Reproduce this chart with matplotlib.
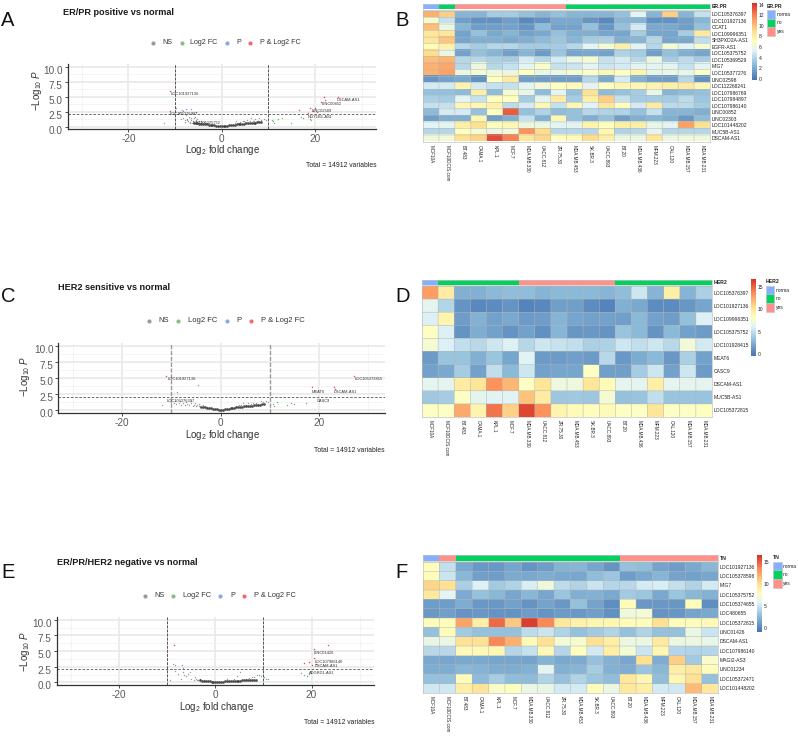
import matplotlib
matplotlib.use('Agg')
import matplotlib.pyplot as plt
import numpy as np
from matplotlib.colors import LinearSegmentedColormap, ListedColormap
from matplotlib.patches import Rectangle
from matplotlib.transforms import ScaledTranslation

plt.rcParams['font.family'] = ['Liberation Sans', 'DejaVu Sans']
plt.rcParams['mathtext.fontset'] = 'custom'
plt.rcParams['mathtext.rm'] = 'Liberation Sans'
plt.rcParams['mathtext.it'] = 'Liberation Sans:italic'
plt.rcParams['axes.unicode_minus'] = False

W, H = 798, 738

### Data: samples and heatmap rows ###
samples = ['MCF10A', 'MCF10DCIS.com', 'BT.483', 'CAMA.1', 'KPL.1', 'MCF.7', 'MDA.MB.330', 'UACC.812', 'ZR.75.30',
           'MDA.MB.453', 'SK.BR.3', 'UACC.893', 'BT.20', 'MDA.MB.436', 'MFM.223', 'CAL.120', 'MDA.MB.157', 'MDA.MB.231']

b_rows = ['LOC105376397', 'LOC101927136', 'CCAT1', 'LOC109996351', 'SH3PXD2A-AS1', 'EGFR-AS1', 'LOC105375752',
          'LOC105369529', 'MIG7', 'LOC105377276', 'LINC02598', 'LOC112268241', 'LOC107986769', 'LOC107984897',
          'LOC107986140', 'LINC00852', 'LINC02303', 'LOC101448202', 'MUC5B-AS1', 'DSCAM-AS1']
b_groups = [0, 1, 2, 2, 2, 2, 2, 2, 2, 1, 1, 1, 1, 1, 1, 1, 1, 1]
b_vals = [
    [10.5, 9.5, 2.5, 2.5, 3.5, 3.5, 3, 2.5, 3, 2.5, 2.5, 2.5, 3, 5.5, 2.5, 9.5, 2.5, 4.5],
    [6.5, 4.5, 1.5, 1, 1, 1.5, 0.7, 1, 2, 2, 1.2, 0.7, 2.5, 2.5, 1, 1, 1.5, 2.5],
    [10, 6, 2.5, 1.5, 1.5, 1.7, 1.2, 2.7, 1.7, 1.7, 3, 1.3, 3, 5, 2, 2, 1.5, 3],
    [8.5, 8.5, 1.7, 3, 2, 2.5, 1.7, 2, 3, 2.2, 2.2, 1.8, 1.8, 3.5, 1.8, 1.8, 3.5, 8.3],
    [8.5, 9.8, 1.8, 2.2, 2.2, 2, 2.2, 2.7, 3.3, 2.5, 3.5, 3.7, 2.2, 2.5, 4, 1.8, 2, 4.3],
    [7.2, 7.8, 4, 3.5, 4, 4, 3.5, 3.5, 3.5, 4, 5.5, 6.5, 8, 5.5, 4, 6.5, 5.5, 6.5],
    [9, 6, 1.7, 3, 2.5, 1.6, 2.5, 1.4, 3.2, 1.8, 2, 1.7, 3.8, 3.5, 1.6, 3, 2.2, 1.8],
    [10, 10.3, 4, 4, 3.7, 3.5, 5, 4, 5, 6, 6.5, 4.5, 5, 4, 6, 3.5, 4.2, 3.5],
    [10.5, 10.8, 4, 6, 4, 4.5, 5.5, 6.8, 4.5, 4.7, 5.5, 4.7, 5, 5.5, 5.5, 5.5, 4.5, 5.5],
    [10.5, 11, 6, 6.5, 6, 5.7, 7, 6, 6, 6.5, 6.8, 7.5, 7, 7.7, 5.8, 6, 5.8, 6.8],
    [1.2, 1.7, 2, 1, 7, 8.2, 1.5, 1.5, 1.5, 1.5, 4, 2, 5, 2.3, 1.5, 1.5, 4, 1],
    [5, 5, 7.7, 5, 4.5, 4.5, 5.5, 6.3, 7, 7.3, 5.5, 7, 7.5, 7.5, 7.7, 8, 8.3, 7.5],
    [3, 3, 2.7, 8, 2.8, 6.5, 5.8, 2.8, 5.5, 3, 8.8, 2.8, 3, 3.5, 5.8, 2.5, 2.8, 3],
    [3.7, 3.5, 5.5, 4.5, 7, 7, 3.5, 5.5, 8.2, 3.5, 8, 9.5, 4.5, 3.5, 3.5, 3.5, 4.2, 3.2],
    [4.5, 4.5, 7.5, 7.5, 7.8, 4.2, 5, 7.5, 4.5, 7.5, 5.3, 8.5, 7, 5, 8.2, 4.2, 4.2, 3.5],
    [2.7, 5, 5, 3, 7, 13, 3, 3.8, 2.8, 3, 4, 3.8, 3.8, 3, 4.5, 2.5, 2.5, 2.2],
    [1.5, 2.2, 2.2, 7.5, 1.5, 2.2, 4.5, 2.3, 7.5, 3, 2.2, 3, 1.5, 2.2, 2.5, 2.2, 1.3, 2.8],
    [5.5, 5.5, 8, 8.8, 7.2, 7.5, 6, 6, 5.5, 5.5, 7.7, 7, 8, 8, 5.8, 5.5, 11, 8.7],
    [4, 4, 7, 6.5, 6, 6.3, 11.5, 9, 4, 4, 4, 7.5, 3.8, 4, 5.5, 4, 4, 4],
    [6.2, 6.3, 8.8, 9.3, 13.5, 12, 8.5, 9.2, 7, 7.3, 9, 8, 6, 6, 8.5, 6, 6.2, 6.2],
]

d_rows = ['LOC105376397', 'LOC101927136', 'LOC109996351', 'LOC105375752', 'LOC101928415', 'MEAT6', 'CASC9',
          'DSCAM-AS1', 'MUC5B-AS1', 'LOC105372815']
d_groups = [0, 1, 1, 1, 1, 1, 2, 2, 2, 2, 2, 2, 1, 1, 1, 1, 1, 1]
d_vals = [
    [13, 9.5, 2.5, 2.5, 3, 3.2, 3.2, 2.7, 3, 3, 3, 2.8, 3.2, 5.5, 2.7, 9.3, 2.7, 4.2],
    [6.5, 4.5, 1.2, 0.6, 0.7, 1.2, 0.4, 0.6, 1.7, 1.7, 0.8, 0.4, 2.5, 2.2, 0.8, 0.7, 1.3, 2],
    [6, 9, 1.6, 2.6, 1.8, 2.2, 1.5, 1.6, 2.7, 2, 1.8, 1.8, 1.7, 3, 1.8, 1.6, 3.3, 6],
    [8, 6, 1.1, 2.4, 1.8, 1.1, 1.8, 1, 2.8, 1.3, 1.4, 1.1, 3.5, 3, 1.1, 3, 1.8, 1.5],
    [7.5, 6, 5, 4.7, 5.5, 6, 4.6, 5.5, 5.2, 5, 4.2, 4.3, 5.5, 5, 5.5, 4.7, 7.3, 5.7],
    [1.5, 3.5, 3.5, 2.5, 3.6, 2, 6.2, 1.5, 1.5, 1.7, 1.5, 4.7, 1.4, 2.3, 3, 1.4, 4.2, 1.8],
    [1.8, 2.2, 4, 1.8, 5, 3, 5.5, 1.8, 2, 2, 8, 1.7, 1.7, 4, 5.5, 1.8, 5.5, 1.5],
    [6.5, 6.5, 9.5, 10, 13.5, 12, 8, 10, 7, 7, 10, 8.5, 6.5, 6.5, 9.3, 6.5, 6.5, 6.5],
    [3.8, 4, 8, 6.5, 6.3, 6.3, 11.5, 9.5, 3.7, 3.8, 3.7, 7.5, 3.4, 3.5, 5, 3.5, 3.5, 3.5],
    [8, 8, 12.5, 9, 14.5, 11, 16, 13.5, 9, 8.5, 8.3, 8.5, 8, 8, 10, 8, 8, 8.2],
]

f_rows = ['LOC101927136', 'LOC105378598', 'MIG7', 'LOC105375752', 'LOC105374655', 'LOC480655', 'LOC105372815',
          'LINC01426', 'DSCAM-AS1', 'LOC107986140', 'MAGI2-AS3', 'LINC01234', 'LOC105372471', 'LOC101448202']
f_groups = [0, 2, 1, 1, 1, 1, 1, 1, 1, 1, 1, 1, 2, 2, 2, 2, 2, 2]
f_vals = [
    [8, 4.7, 1.8, 1, 1, 1.6, 0.8, 1.2, 2.3, 2.4, 1.6, 0.8, 3, 2.8, 1.5, 1.2, 1.8, 2.5],
    [8, 5, 2.5, 1.3, 1.2, 1.9, 1.8, 2, 1.8, 1.7, 2.8, 3.3, 1.2, 1.8, 2.4, 1.5, 1.4, 1.7],
    [10.5, 10, 3.8, 5.7, 3.5, 4, 5.5, 6.8, 4.5, 4, 5, 4.2, 4.3, 5.4, 5.5, 4.7, 4, 5.3],
    [9.5, 6, 1.9, 3, 2.5, 1.7, 2.5, 1.7, 3.2, 2.1, 2.2, 1.8, 3.5, 3.3, 1.8, 3.2, 2.5, 2.2],
    [1.2, 1.2, 2, 1, 1, 1.4, 0.7, 1.5, 1, 3, 1.5, 0.5, 8, 1, 1, 0.9, 8, 0.5],
    [1, 1.3, 0.8, 1, 0.8, 0.7, 1.2, 0.8, 1.1, 1, 1.3, 0.6, 6.8, 7, 0.8, 0.9, 1.5, 1.8],
    [8, 8, 12.5, 9, 14.5, 11, 16, 13.5, 9.5, 8.8, 8.4, 8.5, 8, 8, 10, 8, 8, 8.2],
    [3, 8, 3.5, 3, 3, 3, 4.5, 5, 4, 3, 3.5, 4, 3, 4, 3, 3, 6.5, 5],
    [6.3, 6.5, 10, 10, 13.5, 12, 8.2, 10, 7, 7.3, 10, 9, 6.5, 6.5, 9.3, 6.5, 6.5, 6.3],
    [4.3, 4.3, 8.2, 8.2, 8.3, 4.2, 4.8, 8.3, 4.2, 7.8, 5.3, 9, 7, 5, 8.5, 4.2, 4, 4.2],
    [1.8, 1.7, 1.8, 1.8, 1.6, 1.6, 1.5, 2.3, 1.8, 1.9, 3, 2.2, 1.7, 10, 2, 10.8, 3.5, 7.5],
    [2, 2, 2.5, 2.3, 2, 2, 2.2, 6, 2.2, 2.4, 3.7, 2.2, 2, 3.2, 2.5, 9, 9.5, 8],
    [3, 3, 8, 2.7, 3.7, 2.8, 2.7, 4, 3, 4, 3.3, 2.8, 9.5, 8.5, 2.8, 8.5, 10, 3],
    [5.2, 5.2, 9, 9.8, 7.5, 7.8, 6.5, 6.3, 5.3, 5.4, 8, 6.5, 9.5, 9, 5.3, 5.2, 11.5, 9.5],
]

### Data: volcano points ###
a_ns_x = [-12.4, -9.8, -8.5, -8.2, -7.9, -7.5, -7.2, -7, -6.8, -6.5, -6.3, -6, -5.8, -5.6, -5.4, -5.2, -5, -4.8, -4.6, -4.4,
          -7.8, -7.4, -6.6, -6.1, -5.5, -4.9, -4.5, -3.9, -3.3, -2.7, 2.8, 3.4, 4, 4.5, 5, 5.5, 6, 6.6, 7.1, 7.7, 8.3, 9, 9.5,
          -7.6, -6.9, -5.7, -4.3, 3.1, 4.8, 6.3, 6.9, 8, -8.7, -9.2]
a_ns_y = [0.7, 3.1, 2.8, 1.5, 1.1, 1.3, 0.9, 1.6, 0.8, 1.2, 0.7, 1.4, 0.7, 1.0, 0.7, 1.3, 0.6, 0.9, 0.6, 1.0,
          0.8, 1.2, 1.5, 0.9, 1.2, 0.8, 0.6, 0.8, 0.7, 0.55, 0.6, 0.65, 0.8, 0.9, 0.85, 1.1, 0.9, 1.0, 1.3, 1.0, 1.1, 1.3, 1.1,
          1.9, 0.6, 1.7, 0.8, 0.9, 1.0, 1.4, 0.9, 1.5, 1.3, 2.3]
a_core_x = [-6, -5.6, -5.2, -4.8, -4.4, -4, -3.6, -3.2, -2.8, -2.4, -2, -1.6, -1.2, -0.8, -0.4, 0, 0.4, 0.8, 1.2, 1.6,
            2, 2.4, 2.8, 3.2, 3.6, 4, 4.4, 4.8, 5.2, 5.6, 6, 6.4, 6.8, 7.2, 7.6, 8, 8.4]
a_core_y = [0.6, 0.58, 0.55, 0.52, 0.48, 0.45, 0.42, 0.38, 0.34, 0.3, 0.26, 0.22, 0.17, 0.12, 0.07, 0.04, 0.08, 0.13, 0.18, 0.22,
            0.27, 0.31, 0.35, 0.38, 0.42, 0.45, 0.48, 0.52, 0.54, 0.56, 0.6, 0.62, 0.65, 0.68, 0.72, 0.76, 0.82]
a_fc_x = [10.8, 11, 11.2, 12, 13, 14.8, 17, 17.5, 18.8, 19.2]
a_fc_y = [1.2, 0.9, 0.7, 1.3, 1.4, 0.7, 1.6, 1.5, 1.3, 1.1]
a_p_x = [-7.6, -6.5, -8.4, -9, -6.3, -5.5]
a_p_y = [3.0, 2.9, 2.7, 2.5, 2.3, 2.4]
a_both_x = [-11, -11, 25, 22, 22.2, 21.3, 19, 20, 16.5, 18.5, 19.5, 20.5]
a_both_y = [6, 2.7, 5, 4.9, 4.4, 4.2, 3.2, 3.1, 2.8, 2.3, 2.6, 2.4]

c_ns_x = [-12, -10, -9.5, -9, -8.5, -8, -7.6, -7.2, -6.8, -6.4, -6, -5.7, -5.4, -5.1, -4.8, -4.5, -4.2,
          -9.2, -8.2, -7, -6, -5.2, -4.4, -3.5, -2.7,
          3.2, 3.7, 4.1, 4.6, 5.1, 5.6, 6.1, 6.5, 7.1, 7.6, 8.1, 8.7, 9.2, 9.7]
c_ns_y = [0.8, 1.3, 1.2, 1.0, 1.1, 0.9, 1.2, 0.8, 1.0, 0.8, 1.1, 0.7, 0.9, 0.6, 0.9, 0.6, 0.7,
          1.5, 1.4, 1.3, 1.4, 1.2, 1.0, 0.8, 0.55,
          0.6, 0.85, 0.8, 1.2, 0.9, 1.1, 1.0, 1.2, 1.1, 1.0, 1.4, 1.3, 1.5, 1.3]
c_core_x = [-4, -3.6, -3.2, -2.8, -2.4, -2, -1.6, -1.2, -0.8, -0.4, 0, 0.4, 0.8, 1.2, 1.6, 2, 2.4, 2.8, 3.2, 3.6,
            4, 4.4, 4.8, 5.2, 5.6, 6, 6.4, 6.8, 7.2, 7.6, 8, 8.4, 8.8]
c_core_y = [0.5, 0.47, 0.44, 0.4, 0.35, 0.3, 0.25, 0.2, 0.14, 0.08, 0.04, 0.09, 0.15, 0.21, 0.26, 0.32, 0.36, 0.41, 0.45, 0.49,
            0.53, 0.57, 0.61, 0.65, 0.68, 0.72, 0.74, 0.77, 0.8, 0.83, 0.87, 0.92, 0.98]
c_fc_x = [10.6, 10.8, 11.5, 13.5, 14.3, 14.9, 17.3]
c_fc_y = [1.0, 0.7, 1.3, 0.8, 1.2, 1.0, 1.2]
c_p_x = [-4.7, -8.8]
c_p_y = [3.9, 2.9]
c_both_x = [-11.2, 18.5, 23, 23.2, 27.2]
c_both_y = [5.4, 3.6, 3.6, 3.3, 5.4]

e_ns_x = [-9.5, -9, -8.8, -8.3, -7.8, -7.2, -6.8, -6.2, -5.6, -5, -4.5, -4.2, -3.9, -3.6, -3.3,
          -6.5, -5.2, -4, -3.2, -2.3, 2.5, 3.8, 4.6, 5.2, 6.4, 7, 7.6, 8, 8.6, 9.1, 9.5]
e_ns_y = [0.3, 2.1, 2.9, 1.8, 1.4, 0.6, 1.7, 1.0, 1.4, 0.6, 0.4, 0.8, 0.4, 0.35, 0.5,
          1.2, 1.7, 0.5, 0.4, 0.45, 0.6, 0.5, 1.0, 1.6, 0.6, 0.7, 0.8, 0.9, 1.1, 1.2, 1.0]
e_core_x = [-3.2, -2.8, -2.4, -2, -1.6, -1.2, -0.8, -0.4, 0, 0.4, 0.8, 1.2, 1.6, 2, 2.4, 2.8, 3.2, 3.6, 4, 4.4, 4.8, 5.2,
            5.6, 6, 6.4, 6.8, 7.2, 7.6, 8, 8.4]
e_core_y = [0.3, 0.28, 0.25, 0.22, 0.18, 0.15, 0.11, 0.07, 0.05, 0.07, 0.09, 0.11, 0.13, 0.15, 0.17, 0.19, 0.2, 0.22, 0.24, 0.25,
            0.27, 0.29, 0.3, 0.32, 0.33, 0.35, 0.37, 0.39, 0.42, 0.45]
e_fc_x = [10.2, 10.5, 11, 17.8, 18.5, 19, 19.5]
e_fc_y = [0.9, 0.6, 0.5, 1.5, 1.2, 1.0, 1.4]
e_p_x = [-7, -6.8, -8.5]
e_p_y = [2.7, 2.3, 2.7]
e_both_x = [-8.7, 20.5, 23.5, 20.5, 18.5, 19.5, 20, 21]
e_both_y = [5.9, 5.4, 5.9, 3.9, 3.1, 3.2, 2.7, 2.9]

legend_labels = ['NS', 'Log2 FC', 'P', 'P & Log2 FC']
legend_cols = ['#9a9a9a', '#86c086', '#8ea6e6', '#ee6a70']

# RdYlBu reversed, blues stretched a bit to match the picture
heat_nodes = [0, 0.21, 0.38, 0.5, 0.63, 0.82, 1]
heat_cols = ['#4575B4', '#91BFDB', '#E0F3F8', '#FFFFBF', '#FEE090', '#FC8D59', '#D73027']
heat_cmap = LinearSegmentedColormap.from_list('heat', list(zip(heat_nodes, heat_cols)), N=256)
group_cols = ['#85AFFF', '#00D15F', '#FF918A']
group_names = ['norma', 'no', 'yes']

fig = plt.figure(figsize=(W / 100, H / 100), dpi=100)


def px_axes(left, top, right, bottom):
    return fig.add_axes([left / W, 1 - bottom / H, (right - left) / W, (bottom - top) / H])


# Full-figure layer in pixel coordinates, for panel text
page = px_axes(0, 0, W, H)
page.set_xlim(0, W)
page.set_ylim(H, 0)
page.axis('off')
page.set_zorder(5)


def volcano(box, xlim, ylim, ns, core, fc, p, both, title, title_xy, letter, letter_xy,
            leg_y, leg_dots, leg_text, leg_size, gene_labels, total_xy, xlabel_xy, ylabel_xy, vline):
    ax = px_axes(*box)
    ax.set_xlim(*xlim)
    ax.set_ylim(*ylim)
    ax.set_xticks([-20, 0, 20])
    ax.set_xticks([-30, -10, 10, 30], minor=True)
    ax.set_yticks([0, 2.5, 5, 7.5, 10])
    ax.set_yticklabels(['0.0', '2.5', '5.0', '7.5', '10.0'])
    ax.set_yticks([1.25, 3.75, 6.25, 8.75], minor=True)
    ax.grid(True, which='major', color='#e9e9e9', lw=1.2)
    ax.grid(True, which='minor', color='#f2f2f2', lw=0.6)
    ax.set_axisbelow(True)
    for side in ['top', 'right']:
        ax.spines[side].set_visible(False)
    for side in ['left', 'bottom']:
        ax.spines[side].set_linewidth(0.9)
        ax.spines[side].set_color('#333333')
    ax.tick_params(which='minor', length=0)
    ax.tick_params(which='major', length=2, width=0.6, labelsize=7.2, labelcolor='#5a5a5a', color='#333333', pad=1.5)
    # y labels sit a little below their ticks in the original
    for lab in ax.get_yticklabels():
        lab.set_transform(lab.get_transform() + ScaledTranslation(0, -3 / 100, fig.dpi_scale_trans))

    ax.scatter(ns[0], ns[1], s=1.0, color='#666666', alpha=0.65, lw=0)
    ax.scatter(core[0], core[1], s=3.6, color='#3a3a3a', alpha=0.9, lw=0)
    ax.scatter(fc[0], fc[1], s=1.0, color='#4aa64a', alpha=0.8, lw=0)
    ax.scatter(p[0], p[1], s=1.0, color='#5577dd', alpha=0.8, lw=0)
    ax.scatter(both[0], both[1], s=1.2, color='#e8303a', alpha=0.85, lw=0)
    ax.axhline(2.1, color='#555555', lw=0.6, ls=(0, (3, 2)))
    ax.axvline(-10, color=vline[0], lw=vline[1], ls=(0, (3, 1.2)))
    ax.axvline(10, color=vline[0], lw=vline[1], ls=(0, (3, 1.2)))

    page.text(xlabel_xy[0], xlabel_xy[1], r'$\mathrm{Log}_{2}$ fold change', fontsize=7, color='#333333', ha='center', va='center')
    page.text(ylabel_xy[0], ylabel_xy[1], r'$-\mathrm{Log}_{10}\ \mathit{P}$', fontsize=7, color='#333333',
              ha='center', va='center', rotation=90)
    page.text(title_xy[0], title_xy[1], title, fontsize=6.6, fontweight='bold', color='#1a1a1a', va='center')
    page.text(letter_xy[0], letter_xy[1], letter, fontsize=14.5, color='#111111', va='center')
    for lx, tx, name, col in zip(leg_dots, leg_text, legend_labels, legend_cols):
        page.scatter([lx], [leg_y], s=9, color=col, lw=0)
        page.text(tx, leg_y, name, fontsize=leg_size, color='#333333', va='center')
    for tx, ty, name in gene_labels:
        page.text(tx, ty, name, fontsize=2.9, color='#333333', va='center')
    page.text(total_xy[0], total_xy[1], 'Total = 14912 variables', fontsize=4.9, color='#222222', ha='right', va='center')


def heatmap(box, ann_top, ann_bottom, vals, rows, groups, ann_name, vmin, vmax, letter, letter_xy,
            bar_box, bar_ticks, leg_x, leg_title_y, leg_top, label_x):
    left, top, right, bottom = box
    ann = px_axes(left, ann_top, right, ann_bottom)
    ann.imshow(np.array([groups]), cmap=ListedColormap(group_cols), vmin=-0.5, vmax=2.5, aspect='auto',
               interpolation='nearest')
    ann.axis('off')
    ann.add_patch(Rectangle((0, 0), 1, 1, transform=ann.transAxes, fill=False, ec='#c4c4c4', lw=0.5, clip_on=False))

    n_rows, n_cols = len(rows), len(samples)
    ax = px_axes(left, top, right, bottom)
    ax.imshow(np.array(vals), cmap=heat_cmap, vmin=vmin, vmax=vmax, aspect='auto', interpolation='nearest',
              extent=[0, n_cols, n_rows, 0])
    # cell borders, kept thin and unsnapped so rows stay even
    ax.hlines(np.arange(1, n_rows), 0, n_cols, color='#b5b5b5', lw=0.35, snap=False)
    ax.vlines(np.arange(1, n_cols), 0, n_rows, color='#b5b5b5', lw=0.35, snap=False)
    for side in ax.spines.values():
        side.set_color('#b5b5b5')
        side.set_linewidth(0.4)
    ax.yaxis.tick_right()
    ax.set_yticks(np.arange(n_rows) + 0.5)
    ax.set_yticklabels(rows)
    ax.set_xticks(np.arange(n_cols) + 0.5)
    ax.set_xticklabels(samples, rotation=270, ha='center', va='top')
    ax.tick_params(axis='y', length=0, labelsize=3.6, pad=1.2, labelcolor='#222222')
    ax.tick_params(axis='x', length=0, labelsize=3.3, pad=2.5, labelcolor='#222222')
    page.text(right + 1.5, (ann_top + ann_bottom) / 2, ann_name, fontsize=3.7, fontweight='bold', va='center', color='#222222')
    page.text(letter_xy[0], letter_xy[1], letter, fontsize=14.5, color='#111111', va='center')

    # Colour bar and annotation legend
    cax = px_axes(*bar_box)
    grad = np.linspace(vmax, vmin, 256).reshape(-1, 1)
    cax.imshow(grad, aspect='auto', cmap=heat_cmap, vmin=vmin, vmax=vmax, extent=[0, 1, vmin, vmax])
    cax.set_xticks([])
    cax.yaxis.tick_right()
    cax.set_yticks(bar_ticks)
    cax.tick_params(axis='y', length=0, labelsize=3.6, pad=1.5, labelcolor='#222222')
    for side in cax.spines.values():
        side.set_visible(False)
    page.text(leg_x, leg_title_y, ann_name, fontsize=3.7, fontweight='bold', va='center', color='#222222')
    for i, name in enumerate(group_names):
        y0 = leg_top + i * 8.6
        page.add_patch(Rectangle((leg_x, y0), 8.5, 8.6, fc=group_cols[i], ec='#c4c4c4', lw=0.4))
        page.text(label_x, y0 + 4.3, name, fontsize=3.5, va='center', color='#222222')


volcano((67.7, 63.5, 376, 129), (-33, 33.04), (-0.38, 10.53),
        (a_ns_x, a_ns_y), (a_core_x, a_core_y), (a_fc_x, a_fc_y), (a_p_x, a_p_y), (a_both_x, a_both_y),
        'ER/PR positive vs normal', (63, 12.7), 'A', (1, 21),
        42.7, [153, 181.5, 226.5, 250], [162.5, 190.5, 236, 259.5], 5.1,
        [(171, 93.7, 'LOC101927136'), (170, 114.3, 'LOC105376397'), (193, 123, 'LOC105375752'),
         (322, 104.3, 'LINC00852'), (337, 100, 'DSCAM-AS1'), (312, 111.3, 'LINC02589'), (308, 117, 'NGY1B1-AS1')],
        (376, 165.5), (222.7, 150), (36.7, 90), ('#555555', 0.7))

volcano((58.3, 343, 385, 413), (-33, 33.4), (-0.42, 10.47),
        (c_ns_x, c_ns_y), (c_core_x, c_core_y), (c_fc_x, c_fc_y), (c_p_x, c_p_y), (c_both_x, c_both_y),
        'HER2 sensitive vs normal', (58, 287), 'C', (1, 296),
        321, [148.7, 178.3, 227, 250.7], [158.3, 187.7, 236.7, 260.7], 5.5,
        [(168, 379, 'LOC101927136'), (355, 379, 'LOC105372815'), (312, 391.7, 'MEAT6'),
         (334, 391.7, 'DSCAM-AS1'), (167, 401, 'LOC105376397'), (317, 401.3, 'CASC9')],
        (385, 450), (222.3, 435), (25, 376.7), ('#9a9a9a', 1.0))

volcano((56.7, 616.7, 374.3, 685), (-33, 33.05), (-0.43, 10.5),
        (e_ns_x, e_ns_y), (e_core_x, e_core_y), (e_fc_x, e_fc_y), (e_p_x, e_p_y), (e_both_x, e_both_y),
        'ER/PR/HER2 negative vs normal', (57, 562.5), 'E', (1, 572),
        595.7, [145, 173.3, 220.3, 244.3], [154, 182.7, 230, 254], 5.3,
        [(314, 653, 'LINC01426'), (315, 662, 'LOC107986140'), (315, 665.7, 'DSCAM-AS1'), (309, 673, 'ADGRD1-AS1')],
        (374.3, 722), (216.7, 706.7), (25, 651.7), ('#555555', 0.7))

heatmap((423, 11, 710, 141.5), 4, 9.5, b_vals, b_rows, b_groups, 'ER.PR', -0.2, 14.3, 'B', (395, 20),
        (751.7, 3, 756.7, 80), [0, 2, 4, 6, 8, 10, 12, 14], 766.7, 6, 10, 777)
heatmap((422, 286, 712, 417), 279.5, 285, d_vals, d_rows, d_groups, 'HER2', -0.4, 16.8, 'D', (395, 296),
        (750.7, 279, 755.7, 356), [0, 5, 10, 15], 765.7, 281.7, 285.7, 775.7)
heatmap((423, 562, 718, 692.7), 555, 561, f_vals, f_rows, f_groups, 'TN', -0.8, 16.5, 'F', (395, 572),
        (757, 555, 762, 631.7), [0, 5, 10, 15], 773, 557.7, 561.7, 783)

fig.savefig('out.png', dpi=100)
